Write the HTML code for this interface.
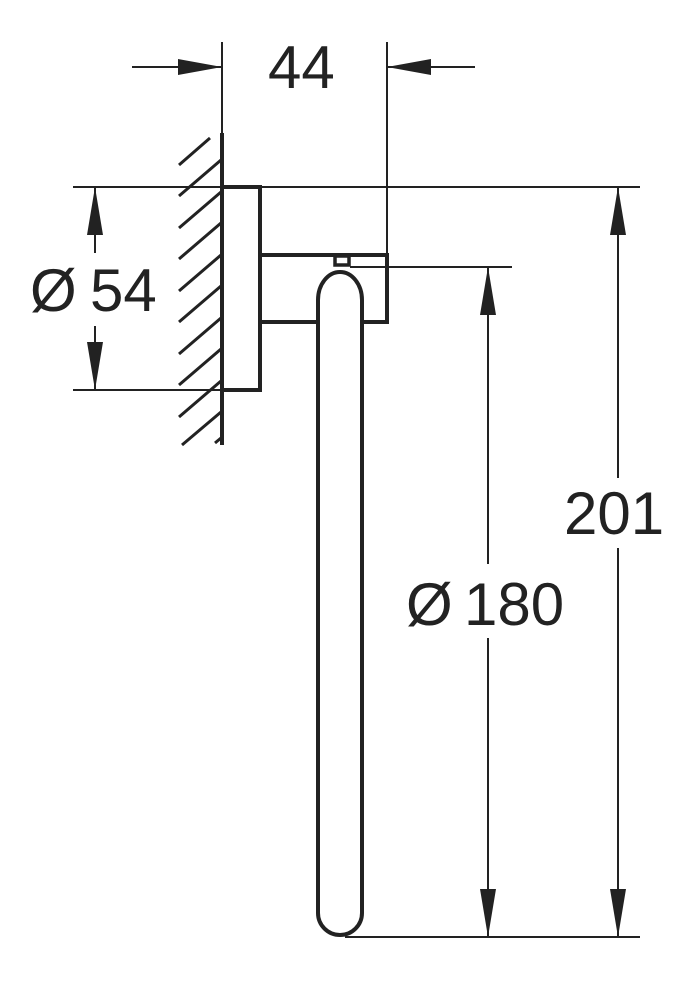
<!DOCTYPE html>
<html><head><meta charset="utf-8"><style>
html,body{margin:0;padding:0;background:#fff;}
svg{display:block}
text{font-family:"Liberation Sans",sans-serif;fill:#222}
</style></head><body>
<svg width="699" height="1000" viewBox="0 0 699 1000" xmlns="http://www.w3.org/2000/svg">
<g stroke="#222" fill="none">
<!-- dimension lines thin -->
<g stroke-width="2">
<line x1="222" y1="42" x2="222" y2="135"/>
<line x1="387" y1="42" x2="387" y2="255"/>
<line x1="132" y1="67" x2="222" y2="67"/>
<line x1="387" y1="67" x2="475" y2="67"/>
<line x1="73" y1="187" x2="640" y2="187"/>
<line x1="73" y1="390" x2="222" y2="390"/>
<line x1="350" y1="267" x2="512" y2="267"/>
<line x1="345" y1="937" x2="640" y2="937"/>
<line x1="95" y1="187" x2="95" y2="253"/>
<line x1="95" y1="326" x2="95" y2="390"/>
<line x1="488" y1="267" x2="488" y2="564"/>
<line x1="488" y1="638" x2="488" y2="937"/>
<line x1="618" y1="187" x2="618" y2="478"/>
<line x1="618" y1="548" x2="618" y2="937"/>
</g>
<!-- hatch -->
<g stroke-width="3">
<line x1="179" y1="165" x2="210" y2="138"/>
<line x1="179" y1="196" x2="221" y2="160"/>
<line x1="179" y1="228" x2="221" y2="192"/>
<line x1="179" y1="259" x2="221" y2="223"/>
<line x1="179" y1="291" x2="221" y2="255"/>
<line x1="179" y1="322" x2="221" y2="286"/>
<line x1="179" y1="354" x2="221" y2="318"/>
<line x1="179" y1="385" x2="221" y2="349"/>
<line x1="179" y1="417" x2="221" y2="381"/>
<line x1="182" y1="445" x2="221" y2="412"/>
<line x1="215" y1="443" x2="221" y2="438"/>
</g>
<!-- object outlines -->
<g stroke-width="4">
<line x1="222" y1="133" x2="222" y2="445"/>
<rect x="222" y="187" width="38" height="203"/>
<polyline points="260,255 387,255 387,322 364,322"/>
<line x1="260" y1="322" x2="317" y2="322"/>
<path d="M318,300 L318,913 A22,22 0 0 0 362,913 L362,300 A22,28 0 0 0 318,300 Z"/>
<rect x="335" y="256" width="14" height="9" stroke-width="3.5"/>
</g>
</g>
<!-- arrowheads -->
<g fill="#222">
<polygon points="222,67 178,59 178,75"/>
<polygon points="387,67 431,59 431,75"/>
<polygon points="95,187 87,235 103,235"/>
<polygon points="95,390 87,342 103,342"/>
<polygon points="488,267 480,315 496,315"/>
<polygon points="488,937 480,889 496,889"/>
<polygon points="618,187 610,235 626,235"/>
<polygon points="618,937 610,889 626,889"/>
</g>
<text x="268" y="88" font-size="60">44</text>
<text x="30" y="311" font-size="60">Ø</text>
<text x="90" y="311" font-size="60">54</text>
<text x="564" y="534" font-size="60">201</text>
<text x="406" y="625" font-size="60">Ø</text>
<text x="464" y="625" font-size="60">180</text>
</svg>
</body></html>
